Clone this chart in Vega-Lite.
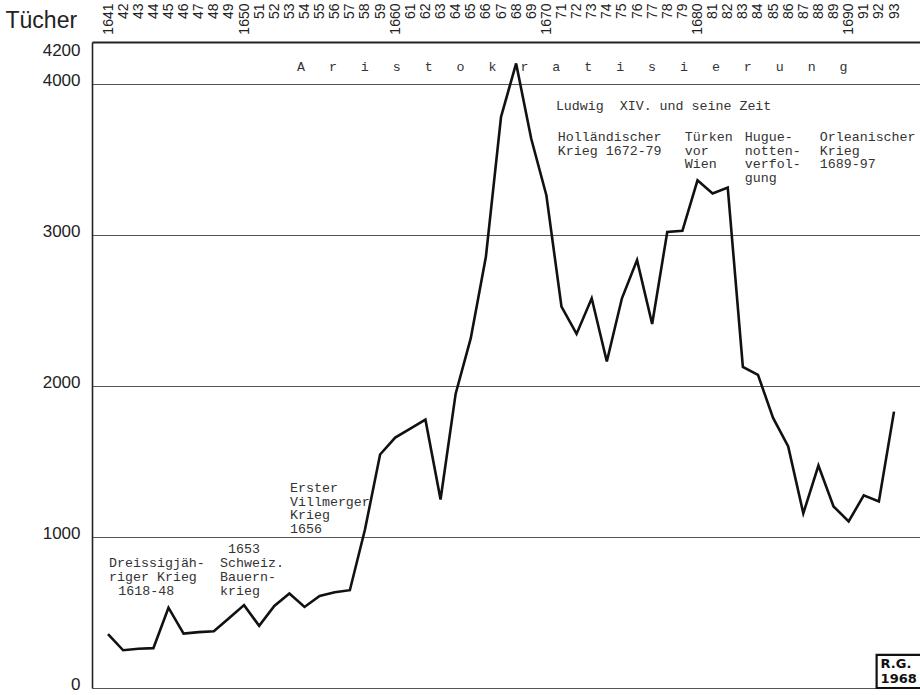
{
  "$schema": "https://vega.github.io/schema/vega-lite/v6.json",
  "autosize": "none",
  "padding": {"left": 92, "top": 42, "right": 0, "bottom": 7},
  "width": 828,
  "height": 646,
  "background": "white",
  "config": {"view": {"stroke": null}},
  "datasets": {
    "series": [
      {"year": 1641, "value": 357}, {"year": 1642, "value": 250}, {"year": 1643, "value": 260},
      {"year": 1644, "value": 264}, {"year": 1645, "value": 532}, {"year": 1646, "value": 360},
      {"year": 1647, "value": 370}, {"year": 1648, "value": 376}, {"year": 1649, "value": 462},
      {"year": 1650, "value": 549}, {"year": 1651, "value": 412}, {"year": 1652, "value": 544},
      {"year": 1653, "value": 626}, {"year": 1654, "value": 537}, {"year": 1655, "value": 610},
      {"year": 1656, "value": 634}, {"year": 1657, "value": 648}, {"year": 1658, "value": 1050},
      {"year": 1659, "value": 1547}, {"year": 1660, "value": 1659}, {"year": 1661, "value": 1718},
      {"year": 1662, "value": 1778}, {"year": 1663, "value": 1249}, {"year": 1664, "value": 1950},
      {"year": 1665, "value": 2318}, {"year": 1666, "value": 2857}, {"year": 1667, "value": 3783},
      {"year": 1668, "value": 4138}, {"year": 1669, "value": 3639}, {"year": 1670, "value": 3265},
      {"year": 1671, "value": 2527}, {"year": 1672, "value": 2346}, {"year": 1673, "value": 2582},
      {"year": 1674, "value": 2163}, {"year": 1675, "value": 2582}, {"year": 1676, "value": 2835},
      {"year": 1677, "value": 2412}, {"year": 1678, "value": 3022}, {"year": 1679, "value": 3029},
      {"year": 1680, "value": 3364}, {"year": 1681, "value": 3276}, {"year": 1682, "value": 3316},
      {"year": 1683, "value": 2128}, {"year": 1684, "value": 2075}, {"year": 1685, "value": 1789},
      {"year": 1686, "value": 1600}, {"year": 1687, "value": 1157}, {"year": 1688, "value": 1474},
      {"year": 1689, "value": 1203}, {"year": 1690, "value": 1104}, {"year": 1691, "value": 1276},
      {"year": 1692, "value": 1236}, {"year": 1693, "value": 1831}
    ],
    "notes": [
      {"year": 1641.07, "value": 874, "label": "Dreissigjäh-\nriger Krieg"},
      {"year": 1641.68, "value": 692, "label": "1618-48"},
      {"year": 1648.94, "value": 964, "label": "1653"},
      {"year": 1648.41, "value": 873, "label": "Schweiz.\nBauern-\nkrieg"},
      {"year": 1653.04, "value": 1371, "label": "Erster\nVillmerger\nKrieg\n1656"},
      {"year": 1670.63, "value": 3902, "label": "Ludwig\u00a0\u00a0XIV. und seine Zeit"},
      {"year": 1670.76, "value": 3697, "label": "Holländischer\nKrieg 1672-79"},
      {"year": 1679.16, "value": 3697, "label": "Türken\nvor\nWien"},
      {"year": 1683.13, "value": 3697, "label": "Hugue-\nnotten-\nverfol-\ngung"},
      {"year": 1688.09, "value": 3697, "label": "Orleanischer\nKrieg\n1689-97"},
      {"year": 1653.5, "value": 4160, "label": "A\u00a0\u00a0\u00a0r\u00a0\u00a0\u00a0i\u00a0\u00a0\u00a0s\u00a0\u00a0\u00a0t\u00a0\u00a0\u00a0o\u00a0\u00a0\u00a0k\u00a0\u00a0\u00a0r\u00a0\u00a0\u00a0a\u00a0\u00a0\u00a0t\u00a0\u00a0\u00a0i\u00a0\u00a0\u00a0s\u00a0\u00a0\u00a0i\u00a0\u00a0\u00a0e\u00a0\u00a0\u00a0r\u00a0\u00a0\u00a0u\u00a0\u00a0\u00a0n\u00a0\u00a0\u00a0g"}
    ],
    "sign": [
      {"year": 1691.85, "value": 219, "label": "R.G.\n1968", "year2": 1697, "value2": 0}
    ]
  },
  "encoding": {
    "x": {
      "field": "year",
      "type": "quantitative",
      "scale": {"domain": [1639.94, 1694.72], "nice": false, "zero": false},
      "axis": {
        "orient": "top",
        "values": [1641,1642,1643,1644,1645,1646,1647,1648,1649,1650,1651,1652,1653,1654,1655,1656,1657,1658,1659,1660,1661,1662,1663,1664,1665,1666,1667,1668,1669,1670,1671,1672,1673,1674,1675,1676,1677,1678,1679,1680,1681,1682,1683,1684,1685,1686,1687,1688,1689,1690,1691,1692,1693],
        "labelExpr": "(datum.value == 1641 || datum.value % 10 == 0) ? format(datum.value, 'd') : slice(format(datum.value, 'd'), 2)",
        "labelAngle": -90,
        "labelAlign": "right",
        "labelBaseline": "middle",
        "labelPadding": 39,
        "labelFont": "Liberation Sans",
        "labelFontSize": 14,
        "labelColor": "#222",
        "labelOverlap": false,
        "labelBound": false,
        "ticks": false,
        "grid": false,
        "domain": true,
        "domainColor": "#222",
        "domainWidth": 2,
        "title": null
      }
    },
    "y": {
      "field": "value",
      "type": "quantitative",
      "scale": {"domain": [0, 4280], "nice": false, "zero": true},
      "axis": {
        "values": [0, 1000, 2000, 3000, 4000, 4200],
        "format": "d",
        "grid": true,
        "gridColor": "#555",
        "gridWidth": 1.2,
        "gridOpacity": {"condition": {"test": "datum.value == 4200", "value": 0}, "value": 1},
        "ticks": false,
        "domain": true,
        "domainColor": "#222",
        "domainWidth": 1.6,
        "labelAlign": "right",
        "labelBaseline": "alphabetic",
        "labelOffset": 1,
        "labelPadding": 12,
        "labelFont": "Liberation Sans",
        "labelFontSize": 17,
        "labelColor": "#222",
        "labelOverlap": false,
        "labelBound": false,
        "title": "Tücher",
        "titleAngle": 0,
        "titleX": -87,
        "titleY": -22,
        "titleAlign": "left",
        "titleBaseline": "middle",
        "titleFont": "Liberation Sans",
        "titleFontSize": 23,
        "titleFontWeight": "normal",
        "titleColor": "#222"
      }
    }
  },
  "layer": [
    {
      "data": {"name": "series"},
      "mark": {"type": "line", "color": "#111", "strokeWidth": 2.6, "strokeJoin": "miter", "clip": false}
    },
    {
      "data": {"name": "notes"},
      "mark": {"type": "text", "align": "left", "baseline": "top", "font": "Liberation Mono", "fontSize": 13.3, "lineHeight": 13.7, "lineBreak": "\n", "color": "#333"},
      "encoding": {"text": {"field": "label"}}
    },
    {
      "data": {"name": "sign"},
      "mark": {"type": "rect", "fill": null, "fillOpacity": 0, "stroke": "#111", "strokeWidth": 2.2, "clip": false},
      "encoding": {"x2": {"field": "year2"}, "y2": {"field": "value2"}}
    },
    {
      "data": {"name": "sign"},
      "mark": {"type": "text", "align": "left", "baseline": "top", "font": "DejaVu Sans", "fontWeight": "bold", "fontSize": 13, "lineHeight": 15, "lineBreak": "\n", "color": "#111", "dx": 4, "dy": 3},
      "encoding": {"text": {"field": "label"}}
    }
  ]
}
